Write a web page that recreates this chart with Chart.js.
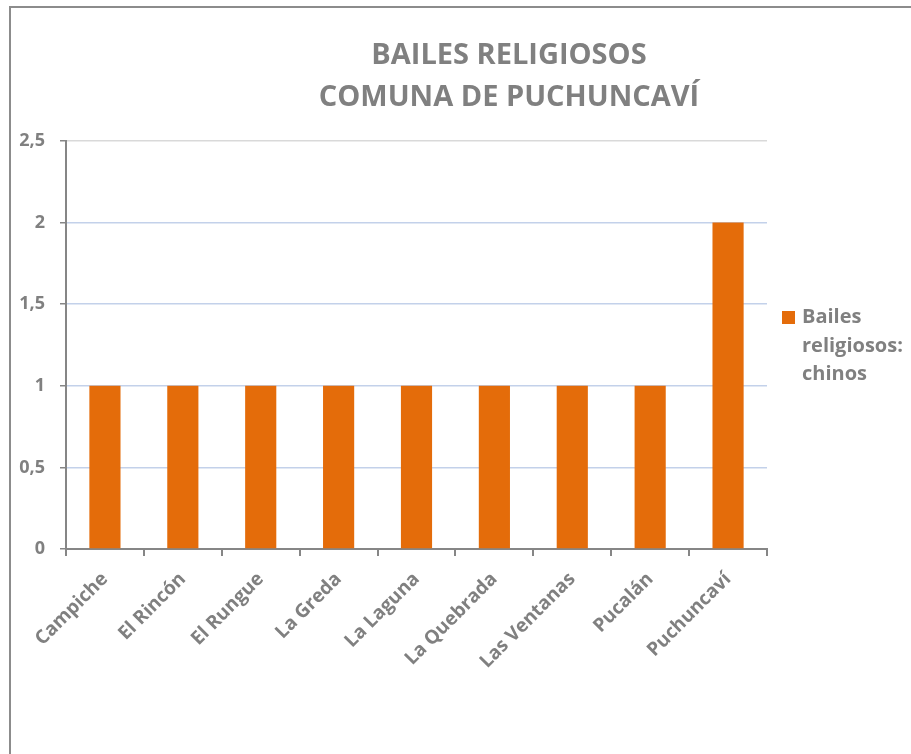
<!DOCTYPE html>
<html>
<head>
<meta charset="utf-8">
<script src="https://cdn.jsdelivr.net/npm/chart.js@4/dist/chart.umd.min.js"></script>
<style>
  html, body { margin: 0; padding: 0; background: #fff; overflow: hidden; }
  #wrap { position: relative; width: 911px; height: 754px; }
  #frame { position: absolute; left: 9px; top: 6px; width: 1000px; height: 1000px;
           border: 2px solid #8c8c8c; pointer-events: none; }
</style>
</head>
<body>
<div id="wrap">
  <canvas id="c" width="911" height="754"></canvas>
  <div id="frame"></div>
</div>
<script>
const categories = ["Campiche", "El Rincón", "El Rungue", "La Greda", "La Laguna", "La Quebrada", "Las Ventanas", "Pucalán", "Puchuncaví"];
const seriesName = "Bailes religiosos: chinos";
const seriesValues = [1, 1, 1, 1, 1, 1, 1, 1, 2];
const titleLines = ["BAILES RELIGIOSOS", "COMUNA DE PUCHUNCAVÍ"];
const yTickValues = [0, 0.5, 1, 1.5, 2, 2.5];
const yTickLabels = ["0", "0,5", "1", "1,5", "2", "2,5"];

const GRAY = "#808080";
const FONT = "'Open Sans', 'DejaVu Sans', sans-serif";

const titlePlugin = {
  id: "customTitle",
  afterDraw(chart) {
    const ctx = chart.ctx;
    ctx.save();
    ctx.fillStyle = GRAY;
    ctx.font = "bold 29px " + FONT;
    ctx.textAlign = "center";
    ctx.textBaseline = "alphabetic";
    titleLines.forEach((t, i) => ctx.fillText(t, 509, 64 + i * 42));
    ctx.restore();
  }
};

const legendPlugin = {
  id: "customLegend",
  afterDraw(chart) {
    const ctx = chart.ctx;
    const ds = chart.data.datasets[0];
    const x0 = chart.chartArea.right + 15;
    const y0 = 311;
    ctx.save();
    ctx.fillStyle = ds.backgroundColor;
    ctx.fillRect(x0, y0, 13, 13);
    ctx.fillStyle = GRAY;
    ctx.font = "bold 20px " + FONT;
    ctx.textAlign = "left";
    ctx.textBaseline = "alphabetic";
    ds.label.split(" ").forEach((w, i) => ctx.fillText(w, x0 + 20, y0 + 12 + i * 28.5));
    ctx.restore();
  }
};

new Chart(document.getElementById("c"), {
  type: "bar",
  data: {
    labels: categories,
    datasets: [{
      label: seriesName,
      data: seriesValues,
      backgroundColor: "#E46C0A",
      borderWidth: 0,
      barPercentage: 1,
      categoryPercentage: 0.4
    }]
  },
  options: {
    responsive: false,
    animation: false,
    devicePixelRatio: 1,
    layout: { padding: { top: 141, right: 144, left: 0, bottom: 0 } },
    plugins: {
      legend: { display: false },
      title: { display: false },
      tooltip: { enabled: false }
    },
    scales: {
      x: {
        offset: true,
        grid: {
          offset: true,
          drawOnChartArea: false,
          drawTicks: true,
          tickLength: 7,
          tickColor: "#868686",
          lineWidth: 2
        },
        border: { display: true, color: "#868686", width: 2 },
        ticks: {
          minRotation: 45,
          maxRotation: 45,
          autoSkip: false,
          color: GRAY,
          font: { family: FONT, size: 19, weight: "bold" },
          padding: 12
        },
        afterFit(scale) { scale.height = 754 - 549; }
      },
      y: {
        min: 0,
        max: 2.5,
        afterBuildTicks(scale) { scale.ticks = yTickValues.map(v => ({ value: v })); },
        grid: {
          color: (c) => (c.tick && c.tick.value === 2.5) ? "#d9d9d9" : "#c3d1ea",
          lineWidth: 1.5,
          drawTicks: true,
          tickLength: 6,
          tickColor: "#868686"
        },
        border: { display: true, color: "#868686", width: 2 },
        ticks: {
          color: GRAY,
          font: { family: FONT, size: 18, weight: "bold" },
          padding: 15,
          callback: (v) => yTickLabels[yTickValues.indexOf(v)]
        },
        afterFit(scale) { scale.width = 66; }
      }
    }
  },
  plugins: [titlePlugin, legendPlugin]
});
</script>
</body>
</html>
